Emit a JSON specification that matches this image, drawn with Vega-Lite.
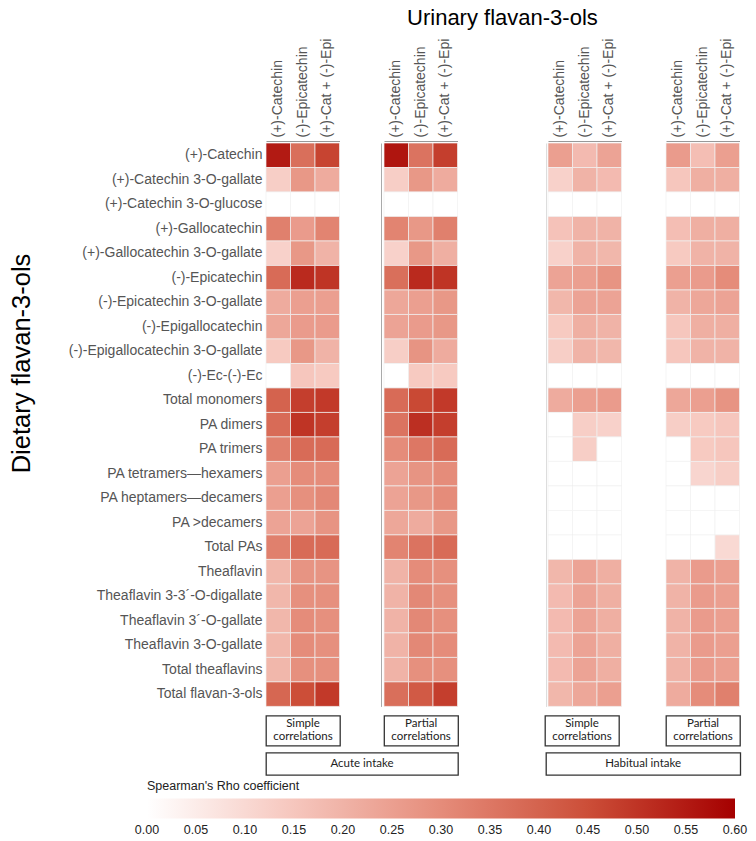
{
"$schema":"https://vega.github.io/schema/vega-lite/v6.json",
"padding":{"left":9,"top":7,"right":5,"bottom":5},
"title":{"text":"Urinary flavan-3-ols","fontSize":22,"font":"Liberation Sans","fontWeight":"normal","color":"#000","anchor":"start","frame":"group","align":"center","dx":236.4,"offset":8},
"datasets":{"cells":[
{"panel":"AS","dietary":"(+)-Catechin","urinary":"(+)-Catechin","rho":0.55},{"panel":"AS","dietary":"(+)-Catechin","urinary":"(-)-Epicatechin","rho":0.37},{"panel":"AS","dietary":"(+)-Catechin","urinary":"(+)-Cat + (-)-Epi","rho":0.47},
{"panel":"AS","dietary":"(+)-Catechin 3-O-gallate","urinary":"(+)-Catechin","rho":0.13},{"panel":"AS","dietary":"(+)-Catechin 3-O-gallate","urinary":"(-)-Epicatechin","rho":0.27},{"panel":"AS","dietary":"(+)-Catechin 3-O-gallate","urinary":"(+)-Cat + (-)-Epi","rho":0.22},
{"panel":"AS","dietary":"(+)-Catechin 3-O-glucose","urinary":"(+)-Catechin","rho":0},{"panel":"AS","dietary":"(+)-Catechin 3-O-glucose","urinary":"(-)-Epicatechin","rho":0},{"panel":"AS","dietary":"(+)-Catechin 3-O-glucose","urinary":"(+)-Cat + (-)-Epi","rho":0},
{"panel":"AS","dietary":"(+)-Gallocatechin","urinary":"(+)-Catechin","rho":0.33},{"panel":"AS","dietary":"(+)-Gallocatechin","urinary":"(-)-Epicatechin","rho":0.26},{"panel":"AS","dietary":"(+)-Gallocatechin","urinary":"(+)-Cat + (-)-Epi","rho":0.32},
{"panel":"AS","dietary":"(+)-Gallocatechin 3-O-gallate","urinary":"(+)-Catechin","rho":0.12},{"panel":"AS","dietary":"(+)-Gallocatechin 3-O-gallate","urinary":"(-)-Epicatechin","rho":0.27},{"panel":"AS","dietary":"(+)-Gallocatechin 3-O-gallate","urinary":"(+)-Cat + (-)-Epi","rho":0.20},
{"panel":"AS","dietary":"(-)-Epicatechin","urinary":"(+)-Catechin","rho":0.38},{"panel":"AS","dietary":"(-)-Epicatechin","urinary":"(-)-Epicatechin","rho":0.52},{"panel":"AS","dietary":"(-)-Epicatechin","urinary":"(+)-Cat + (-)-Epi","rho":0.50},
{"panel":"AS","dietary":"(-)-Epicatechin 3-O-gallate","urinary":"(+)-Catechin","rho":0.22},{"panel":"AS","dietary":"(-)-Epicatechin 3-O-gallate","urinary":"(-)-Epicatechin","rho":0.25},{"panel":"AS","dietary":"(-)-Epicatechin 3-O-gallate","urinary":"(+)-Cat + (-)-Epi","rho":0.25},
{"panel":"AS","dietary":"(-)-Epigallocatechin","urinary":"(+)-Catechin","rho":0.23},{"panel":"AS","dietary":"(-)-Epigallocatechin","urinary":"(-)-Epicatechin","rho":0.26},{"panel":"AS","dietary":"(-)-Epigallocatechin","urinary":"(+)-Cat + (-)-Epi","rho":0.26},
{"panel":"AS","dietary":"(-)-Epigallocatechin 3-O-gallate","urinary":"(+)-Catechin","rho":0.14},{"panel":"AS","dietary":"(-)-Epigallocatechin 3-O-gallate","urinary":"(-)-Epicatechin","rho":0.27},{"panel":"AS","dietary":"(-)-Epigallocatechin 3-O-gallate","urinary":"(+)-Cat + (-)-Epi","rho":0.20},
{"panel":"AS","dietary":"(-)-Ec-(-)-Ec","urinary":"(+)-Catechin","rho":0},{"panel":"AS","dietary":"(-)-Ec-(-)-Ec","urinary":"(-)-Epicatechin","rho":0.15},{"panel":"AS","dietary":"(-)-Ec-(-)-Ec","urinary":"(+)-Cat + (-)-Epi","rho":0.14},
{"panel":"AS","dietary":"Total monomers","urinary":"(+)-Catechin","rho":0.40},{"panel":"AS","dietary":"Total monomers","urinary":"(-)-Epicatechin","rho":0.48},{"panel":"AS","dietary":"Total monomers","urinary":"(+)-Cat + (-)-Epi","rho":0.49},
{"panel":"AS","dietary":"PA dimers","urinary":"(+)-Catechin","rho":0.38},{"panel":"AS","dietary":"PA dimers","urinary":"(-)-Epicatechin","rho":0.50},{"panel":"AS","dietary":"PA dimers","urinary":"(+)-Cat + (-)-Epi","rho":0.48},
{"panel":"AS","dietary":"PA trimers","urinary":"(+)-Catechin","rho":0.33},{"panel":"AS","dietary":"PA trimers","urinary":"(-)-Epicatechin","rho":0.38},{"panel":"AS","dietary":"PA trimers","urinary":"(+)-Cat + (-)-Epi","rho":0.38},
{"panel":"AS","dietary":"PA tetramers—hexamers","urinary":"(+)-Catechin","rho":0.25},{"panel":"AS","dietary":"PA tetramers—hexamers","urinary":"(-)-Epicatechin","rho":0.30},{"panel":"AS","dietary":"PA tetramers—hexamers","urinary":"(+)-Cat + (-)-Epi","rho":0.30},
{"panel":"AS","dietary":"PA heptamers—decamers","urinary":"(+)-Catechin","rho":0.25},{"panel":"AS","dietary":"PA heptamers—decamers","urinary":"(-)-Epicatechin","rho":0.29},{"panel":"AS","dietary":"PA heptamers—decamers","urinary":"(+)-Cat + (-)-Epi","rho":0.31},
{"panel":"AS","dietary":"PA >decamers","urinary":"(+)-Catechin","rho":0.24},{"panel":"AS","dietary":"PA >decamers","urinary":"(-)-Epicatechin","rho":0.24},{"panel":"AS","dietary":"PA >decamers","urinary":"(+)-Cat + (-)-Epi","rho":0.28},
{"panel":"AS","dietary":"Total PAs","urinary":"(+)-Catechin","rho":0.33},{"panel":"AS","dietary":"Total PAs","urinary":"(-)-Epicatechin","rho":0.38},{"panel":"AS","dietary":"Total PAs","urinary":"(+)-Cat + (-)-Epi","rho":0.38},
{"panel":"AS","dietary":"Theaflavin","urinary":"(+)-Catechin","rho":0.19},{"panel":"AS","dietary":"Theaflavin","urinary":"(-)-Epicatechin","rho":0.28},{"panel":"AS","dietary":"Theaflavin","urinary":"(+)-Cat + (-)-Epi","rho":0.28},
{"panel":"AS","dietary":"Theaflavin 3-3´-O-digallate","urinary":"(+)-Catechin","rho":0.19},{"panel":"AS","dietary":"Theaflavin 3-3´-O-digallate","urinary":"(-)-Epicatechin","rho":0.29},{"panel":"AS","dietary":"Theaflavin 3-3´-O-digallate","urinary":"(+)-Cat + (-)-Epi","rho":0.29},
{"panel":"AS","dietary":"Theaflavin 3´-O-gallate","urinary":"(+)-Catechin","rho":0.19},{"panel":"AS","dietary":"Theaflavin 3´-O-gallate","urinary":"(-)-Epicatechin","rho":0.30},{"panel":"AS","dietary":"Theaflavin 3´-O-gallate","urinary":"(+)-Cat + (-)-Epi","rho":0.29},
{"panel":"AS","dietary":"Theaflavin 3-O-gallate","urinary":"(+)-Catechin","rho":0.19},{"panel":"AS","dietary":"Theaflavin 3-O-gallate","urinary":"(-)-Epicatechin","rho":0.30},{"panel":"AS","dietary":"Theaflavin 3-O-gallate","urinary":"(+)-Cat + (-)-Epi","rho":0.29},
{"panel":"AS","dietary":"Total theaflavins","urinary":"(+)-Catechin","rho":0.19},{"panel":"AS","dietary":"Total theaflavins","urinary":"(-)-Epicatechin","rho":0.29},{"panel":"AS","dietary":"Total theaflavins","urinary":"(+)-Cat + (-)-Epi","rho":0.29},
{"panel":"AS","dietary":"Total flavan-3-ols","urinary":"(+)-Catechin","rho":0.39},{"panel":"AS","dietary":"Total flavan-3-ols","urinary":"(-)-Epicatechin","rho":0.45},{"panel":"AS","dietary":"Total flavan-3-ols","urinary":"(+)-Cat + (-)-Epi","rho":0.49},

{"panel":"AP","dietary":"(+)-Catechin","urinary":"(+)-Catechin","rho":0.56},{"panel":"AP","dietary":"(+)-Catechin","urinary":"(-)-Epicatechin","rho":0.36},{"panel":"AP","dietary":"(+)-Catechin","urinary":"(+)-Cat + (-)-Epi","rho":0.48},
{"panel":"AP","dietary":"(+)-Catechin 3-O-gallate","urinary":"(+)-Catechin","rho":0.13},{"panel":"AP","dietary":"(+)-Catechin 3-O-gallate","urinary":"(-)-Epicatechin","rho":0.27},{"panel":"AP","dietary":"(+)-Catechin 3-O-gallate","urinary":"(+)-Cat + (-)-Epi","rho":0.22},
{"panel":"AP","dietary":"(+)-Catechin 3-O-glucose","urinary":"(+)-Catechin","rho":0},{"panel":"AP","dietary":"(+)-Catechin 3-O-glucose","urinary":"(-)-Epicatechin","rho":0},{"panel":"AP","dietary":"(+)-Catechin 3-O-glucose","urinary":"(+)-Cat + (-)-Epi","rho":0},
{"panel":"AP","dietary":"(+)-Gallocatechin","urinary":"(+)-Catechin","rho":0.32},{"panel":"AP","dietary":"(+)-Gallocatechin","urinary":"(-)-Epicatechin","rho":0.27},{"panel":"AP","dietary":"(+)-Gallocatechin","urinary":"(+)-Cat + (-)-Epi","rho":0.33},
{"panel":"AP","dietary":"(+)-Gallocatechin 3-O-gallate","urinary":"(+)-Catechin","rho":0.12},{"panel":"AP","dietary":"(+)-Gallocatechin 3-O-gallate","urinary":"(-)-Epicatechin","rho":0.27},{"panel":"AP","dietary":"(+)-Gallocatechin 3-O-gallate","urinary":"(+)-Cat + (-)-Epi","rho":0.21},
{"panel":"AP","dietary":"(-)-Epicatechin","urinary":"(+)-Catechin","rho":0.37},{"panel":"AP","dietary":"(-)-Epicatechin","urinary":"(-)-Epicatechin","rho":0.52},{"panel":"AP","dietary":"(-)-Epicatechin","urinary":"(+)-Cat + (-)-Epi","rho":0.50},
{"panel":"AP","dietary":"(-)-Epicatechin 3-O-gallate","urinary":"(+)-Catechin","rho":0.23},{"panel":"AP","dietary":"(-)-Epicatechin 3-O-gallate","urinary":"(-)-Epicatechin","rho":0.25},{"panel":"AP","dietary":"(-)-Epicatechin 3-O-gallate","urinary":"(+)-Cat + (-)-Epi","rho":0.27},
{"panel":"AP","dietary":"(-)-Epigallocatechin","urinary":"(+)-Catechin","rho":0.24},{"panel":"AP","dietary":"(-)-Epigallocatechin","urinary":"(-)-Epicatechin","rho":0.26},{"panel":"AP","dietary":"(-)-Epigallocatechin","urinary":"(+)-Cat + (-)-Epi","rho":0.27},
{"panel":"AP","dietary":"(-)-Epigallocatechin 3-O-gallate","urinary":"(+)-Catechin","rho":0.13},{"panel":"AP","dietary":"(-)-Epigallocatechin 3-O-gallate","urinary":"(-)-Epicatechin","rho":0.28},{"panel":"AP","dietary":"(-)-Epigallocatechin 3-O-gallate","urinary":"(+)-Cat + (-)-Epi","rho":0.22},
{"panel":"AP","dietary":"(-)-Ec-(-)-Ec","urinary":"(+)-Catechin","rho":0},{"panel":"AP","dietary":"(-)-Ec-(-)-Ec","urinary":"(-)-Epicatechin","rho":0.14},{"panel":"AP","dietary":"(-)-Ec-(-)-Ec","urinary":"(+)-Cat + (-)-Epi","rho":0.14},
{"panel":"AP","dietary":"Total monomers","urinary":"(+)-Catechin","rho":0.38},{"panel":"AP","dietary":"Total monomers","urinary":"(-)-Epicatechin","rho":0.46},{"panel":"AP","dietary":"Total monomers","urinary":"(+)-Cat + (-)-Epi","rho":0.49},
{"panel":"AP","dietary":"PA dimers","urinary":"(+)-Catechin","rho":0.36},{"panel":"AP","dietary":"PA dimers","urinary":"(-)-Epicatechin","rho":0.51},{"panel":"AP","dietary":"PA dimers","urinary":"(+)-Cat + (-)-Epi","rho":0.48},
{"panel":"AP","dietary":"PA trimers","urinary":"(+)-Catechin","rho":0.30},{"panel":"AP","dietary":"PA trimers","urinary":"(-)-Epicatechin","rho":0.35},{"panel":"AP","dietary":"PA trimers","urinary":"(+)-Cat + (-)-Epi","rho":0.38},
{"panel":"AP","dietary":"PA tetramers—hexamers","urinary":"(+)-Catechin","rho":0.24},{"panel":"AP","dietary":"PA tetramers—hexamers","urinary":"(-)-Epicatechin","rho":0.28},{"panel":"AP","dietary":"PA tetramers—hexamers","urinary":"(+)-Cat + (-)-Epi","rho":0.30},
{"panel":"AP","dietary":"PA heptamers—decamers","urinary":"(+)-Catechin","rho":0.24},{"panel":"AP","dietary":"PA heptamers—decamers","urinary":"(-)-Epicatechin","rho":0.27},{"panel":"AP","dietary":"PA heptamers—decamers","urinary":"(+)-Cat + (-)-Epi","rho":0.30},
{"panel":"AP","dietary":"PA >decamers","urinary":"(+)-Catechin","rho":0.23},{"panel":"AP","dietary":"PA >decamers","urinary":"(-)-Epicatechin","rho":0.22},{"panel":"AP","dietary":"PA >decamers","urinary":"(+)-Cat + (-)-Epi","rho":0.27},
{"panel":"AP","dietary":"Total PAs","urinary":"(+)-Catechin","rho":0.32},{"panel":"AP","dietary":"Total PAs","urinary":"(-)-Epicatechin","rho":0.36},{"panel":"AP","dietary":"Total PAs","urinary":"(+)-Cat + (-)-Epi","rho":0.38},
{"panel":"AP","dietary":"Theaflavin","urinary":"(+)-Catechin","rho":0.20},{"panel":"AP","dietary":"Theaflavin","urinary":"(-)-Epicatechin","rho":0.30},{"panel":"AP","dietary":"Theaflavin","urinary":"(+)-Cat + (-)-Epi","rho":0.29},
{"panel":"AP","dietary":"Theaflavin 3-3´-O-digallate","urinary":"(+)-Catechin","rho":0.20},{"panel":"AP","dietary":"Theaflavin 3-3´-O-digallate","urinary":"(-)-Epicatechin","rho":0.31},{"panel":"AP","dietary":"Theaflavin 3-3´-O-digallate","urinary":"(+)-Cat + (-)-Epi","rho":0.29},
{"panel":"AP","dietary":"Theaflavin 3´-O-gallate","urinary":"(+)-Catechin","rho":0.20},{"panel":"AP","dietary":"Theaflavin 3´-O-gallate","urinary":"(-)-Epicatechin","rho":0.31},{"panel":"AP","dietary":"Theaflavin 3´-O-gallate","urinary":"(+)-Cat + (-)-Epi","rho":0.29},
{"panel":"AP","dietary":"Theaflavin 3-O-gallate","urinary":"(+)-Catechin","rho":0.20},{"panel":"AP","dietary":"Theaflavin 3-O-gallate","urinary":"(-)-Epicatechin","rho":0.31},{"panel":"AP","dietary":"Theaflavin 3-O-gallate","urinary":"(+)-Cat + (-)-Epi","rho":0.30},
{"panel":"AP","dietary":"Total theaflavins","urinary":"(+)-Catechin","rho":0.20},{"panel":"AP","dietary":"Total theaflavins","urinary":"(-)-Epicatechin","rho":0.29},{"panel":"AP","dietary":"Total theaflavins","urinary":"(+)-Cat + (-)-Epi","rho":0.29},
{"panel":"AP","dietary":"Total flavan-3-ols","urinary":"(+)-Catechin","rho":0.37},{"panel":"AP","dietary":"Total flavan-3-ols","urinary":"(-)-Epicatechin","rho":0.42},{"panel":"AP","dietary":"Total flavan-3-ols","urinary":"(+)-Cat + (-)-Epi","rho":0.48},

{"panel":"HS","dietary":"(+)-Catechin","urinary":"(+)-Catechin","rho":0.25},{"panel":"HS","dietary":"(+)-Catechin","urinary":"(-)-Epicatechin","rho":0.18},{"panel":"HS","dietary":"(+)-Catechin","urinary":"(+)-Cat + (-)-Epi","rho":0.24},
{"panel":"HS","dietary":"(+)-Catechin 3-O-gallate","urinary":"(+)-Catechin","rho":0.12},{"panel":"HS","dietary":"(+)-Catechin 3-O-gallate","urinary":"(-)-Epicatechin","rho":0.20},{"panel":"HS","dietary":"(+)-Catechin 3-O-gallate","urinary":"(+)-Cat + (-)-Epi","rho":0.18},
{"panel":"HS","dietary":"(+)-Catechin 3-O-glucose","urinary":"(+)-Catechin","rho":0},{"panel":"HS","dietary":"(+)-Catechin 3-O-glucose","urinary":"(-)-Epicatechin","rho":0},{"panel":"HS","dietary":"(+)-Catechin 3-O-glucose","urinary":"(+)-Cat + (-)-Epi","rho":0},
{"panel":"HS","dietary":"(+)-Gallocatechin","urinary":"(+)-Catechin","rho":0.16},{"panel":"HS","dietary":"(+)-Gallocatechin","urinary":"(-)-Epicatechin","rho":0.20},{"panel":"HS","dietary":"(+)-Gallocatechin","urinary":"(+)-Cat + (-)-Epi","rho":0.20},
{"panel":"HS","dietary":"(+)-Gallocatechin 3-O-gallate","urinary":"(+)-Catechin","rho":0.12},{"panel":"HS","dietary":"(+)-Gallocatechin 3-O-gallate","urinary":"(-)-Epicatechin","rho":0.20},{"panel":"HS","dietary":"(+)-Gallocatechin 3-O-gallate","urinary":"(+)-Cat + (-)-Epi","rho":0.19},
{"panel":"HS","dietary":"(-)-Epicatechin","urinary":"(+)-Catechin","rho":0.24},{"panel":"HS","dietary":"(-)-Epicatechin","urinary":"(-)-Epicatechin","rho":0.25},{"panel":"HS","dietary":"(-)-Epicatechin","urinary":"(+)-Cat + (-)-Epi","rho":0.28},
{"panel":"HS","dietary":"(-)-Epicatechin 3-O-gallate","urinary":"(+)-Catechin","rho":0.19},{"panel":"HS","dietary":"(-)-Epicatechin 3-O-gallate","urinary":"(-)-Epicatechin","rho":0.24},{"panel":"HS","dietary":"(-)-Epicatechin 3-O-gallate","urinary":"(+)-Cat + (-)-Epi","rho":0.24},
{"panel":"HS","dietary":"(-)-Epigallocatechin","urinary":"(+)-Catechin","rho":0.14},{"panel":"HS","dietary":"(-)-Epigallocatechin","urinary":"(-)-Epicatechin","rho":0.21},{"panel":"HS","dietary":"(-)-Epigallocatechin","urinary":"(+)-Cat + (-)-Epi","rho":0.20},
{"panel":"HS","dietary":"(-)-Epigallocatechin 3-O-gallate","urinary":"(+)-Catechin","rho":0.13},{"panel":"HS","dietary":"(-)-Epigallocatechin 3-O-gallate","urinary":"(-)-Epicatechin","rho":0.20},{"panel":"HS","dietary":"(-)-Epigallocatechin 3-O-gallate","urinary":"(+)-Cat + (-)-Epi","rho":0.19},
{"panel":"HS","dietary":"(-)-Ec-(-)-Ec","urinary":"(+)-Catechin","rho":0},{"panel":"HS","dietary":"(-)-Ec-(-)-Ec","urinary":"(-)-Epicatechin","rho":0},{"panel":"HS","dietary":"(-)-Ec-(-)-Ec","urinary":"(+)-Cat + (-)-Epi","rho":0},
{"panel":"HS","dietary":"Total monomers","urinary":"(+)-Catechin","rho":0.22},{"panel":"HS","dietary":"Total monomers","urinary":"(-)-Epicatechin","rho":0.25},{"panel":"HS","dietary":"Total monomers","urinary":"(+)-Cat + (-)-Epi","rho":0.26},
{"panel":"HS","dietary":"PA dimers","urinary":"(+)-Catechin","rho":0},{"panel":"HS","dietary":"PA dimers","urinary":"(-)-Epicatechin","rho":0.13},{"panel":"HS","dietary":"PA dimers","urinary":"(+)-Cat + (-)-Epi","rho":0.12},
{"panel":"HS","dietary":"PA trimers","urinary":"(+)-Catechin","rho":0},{"panel":"HS","dietary":"PA trimers","urinary":"(-)-Epicatechin","rho":0.13},{"panel":"HS","dietary":"PA trimers","urinary":"(+)-Cat + (-)-Epi","rho":0},
{"panel":"HS","dietary":"PA tetramers—hexamers","urinary":"(+)-Catechin","rho":0},{"panel":"HS","dietary":"PA tetramers—hexamers","urinary":"(-)-Epicatechin","rho":0},{"panel":"HS","dietary":"PA tetramers—hexamers","urinary":"(+)-Cat + (-)-Epi","rho":0},
{"panel":"HS","dietary":"PA heptamers—decamers","urinary":"(+)-Catechin","rho":0},{"panel":"HS","dietary":"PA heptamers—decamers","urinary":"(-)-Epicatechin","rho":0},{"panel":"HS","dietary":"PA heptamers—decamers","urinary":"(+)-Cat + (-)-Epi","rho":0},
{"panel":"HS","dietary":"PA >decamers","urinary":"(+)-Catechin","rho":0},{"panel":"HS","dietary":"PA >decamers","urinary":"(-)-Epicatechin","rho":0},{"panel":"HS","dietary":"PA >decamers","urinary":"(+)-Cat + (-)-Epi","rho":0},
{"panel":"HS","dietary":"Total PAs","urinary":"(+)-Catechin","rho":0},{"panel":"HS","dietary":"Total PAs","urinary":"(-)-Epicatechin","rho":0},{"panel":"HS","dietary":"Total PAs","urinary":"(+)-Cat + (-)-Epi","rho":0},
{"panel":"HS","dietary":"Theaflavin","urinary":"(+)-Catechin","rho":0.19},{"panel":"HS","dietary":"Theaflavin","urinary":"(-)-Epicatechin","rho":0.24},{"panel":"HS","dietary":"Theaflavin","urinary":"(+)-Cat + (-)-Epi","rho":0.21},
{"panel":"HS","dietary":"Theaflavin 3-3´-O-digallate","urinary":"(+)-Catechin","rho":0.18},{"panel":"HS","dietary":"Theaflavin 3-3´-O-digallate","urinary":"(-)-Epicatechin","rho":0.24},{"panel":"HS","dietary":"Theaflavin 3-3´-O-digallate","urinary":"(+)-Cat + (-)-Epi","rho":0.21},
{"panel":"HS","dietary":"Theaflavin 3´-O-gallate","urinary":"(+)-Catechin","rho":0.18},{"panel":"HS","dietary":"Theaflavin 3´-O-gallate","urinary":"(-)-Epicatechin","rho":0.24},{"panel":"HS","dietary":"Theaflavin 3´-O-gallate","urinary":"(+)-Cat + (-)-Epi","rho":0.21},
{"panel":"HS","dietary":"Theaflavin 3-O-gallate","urinary":"(+)-Catechin","rho":0.18},{"panel":"HS","dietary":"Theaflavin 3-O-gallate","urinary":"(-)-Epicatechin","rho":0.24},{"panel":"HS","dietary":"Theaflavin 3-O-gallate","urinary":"(+)-Cat + (-)-Epi","rho":0.21},
{"panel":"HS","dietary":"Total theaflavins","urinary":"(+)-Catechin","rho":0.18},{"panel":"HS","dietary":"Total theaflavins","urinary":"(-)-Epicatechin","rho":0.24},{"panel":"HS","dietary":"Total theaflavins","urinary":"(+)-Cat + (-)-Epi","rho":0.21},
{"panel":"HS","dietary":"Total flavan-3-ols","urinary":"(+)-Catechin","rho":0.19},{"panel":"HS","dietary":"Total flavan-3-ols","urinary":"(-)-Epicatechin","rho":0.23},{"panel":"HS","dietary":"Total flavan-3-ols","urinary":"(+)-Cat + (-)-Epi","rho":0.25},

{"panel":"HP","dietary":"(+)-Catechin","urinary":"(+)-Catechin","rho":0.26},{"panel":"HP","dietary":"(+)-Catechin","urinary":"(-)-Epicatechin","rho":0.17},{"panel":"HP","dietary":"(+)-Catechin","urinary":"(+)-Cat + (-)-Epi","rho":0.25},
{"panel":"HP","dietary":"(+)-Catechin 3-O-gallate","urinary":"(+)-Catechin","rho":0.15},{"panel":"HP","dietary":"(+)-Catechin 3-O-gallate","urinary":"(-)-Epicatechin","rho":0.21},{"panel":"HP","dietary":"(+)-Catechin 3-O-gallate","urinary":"(+)-Cat + (-)-Epi","rho":0.21},
{"panel":"HP","dietary":"(+)-Catechin 3-O-glucose","urinary":"(+)-Catechin","rho":0},{"panel":"HP","dietary":"(+)-Catechin 3-O-glucose","urinary":"(-)-Epicatechin","rho":0},{"panel":"HP","dietary":"(+)-Catechin 3-O-glucose","urinary":"(+)-Cat + (-)-Epi","rho":0},
{"panel":"HP","dietary":"(+)-Gallocatechin","urinary":"(+)-Catechin","rho":0.17},{"panel":"HP","dietary":"(+)-Gallocatechin","urinary":"(-)-Epicatechin","rho":0.21},{"panel":"HP","dietary":"(+)-Gallocatechin","urinary":"(+)-Cat + (-)-Epi","rho":0.21},
{"panel":"HP","dietary":"(+)-Gallocatechin 3-O-gallate","urinary":"(+)-Catechin","rho":0.14},{"panel":"HP","dietary":"(+)-Gallocatechin 3-O-gallate","urinary":"(-)-Epicatechin","rho":0.20},{"panel":"HP","dietary":"(+)-Gallocatechin 3-O-gallate","urinary":"(+)-Cat + (-)-Epi","rho":0.20},
{"panel":"HP","dietary":"(-)-Epicatechin","urinary":"(+)-Catechin","rho":0.25},{"panel":"HP","dietary":"(-)-Epicatechin","urinary":"(-)-Epicatechin","rho":0.26},{"panel":"HP","dietary":"(-)-Epicatechin","urinary":"(+)-Cat + (-)-Epi","rho":0.30},
{"panel":"HP","dietary":"(-)-Epicatechin 3-O-gallate","urinary":"(+)-Catechin","rho":0.20},{"panel":"HP","dietary":"(-)-Epicatechin 3-O-gallate","urinary":"(-)-Epicatechin","rho":0.23},{"panel":"HP","dietary":"(-)-Epicatechin 3-O-gallate","urinary":"(+)-Cat + (-)-Epi","rho":0.24},
{"panel":"HP","dietary":"(-)-Epigallocatechin","urinary":"(+)-Catechin","rho":0.15},{"panel":"HP","dietary":"(-)-Epigallocatechin","urinary":"(-)-Epicatechin","rho":0.21},{"panel":"HP","dietary":"(-)-Epigallocatechin","urinary":"(+)-Cat + (-)-Epi","rho":0.21},
{"panel":"HP","dietary":"(-)-Epigallocatechin 3-O-gallate","urinary":"(+)-Catechin","rho":0.15},{"panel":"HP","dietary":"(-)-Epigallocatechin 3-O-gallate","urinary":"(-)-Epicatechin","rho":0.20},{"panel":"HP","dietary":"(-)-Epigallocatechin 3-O-gallate","urinary":"(+)-Cat + (-)-Epi","rho":0.20},
{"panel":"HP","dietary":"(-)-Ec-(-)-Ec","urinary":"(+)-Catechin","rho":0},{"panel":"HP","dietary":"(-)-Ec-(-)-Ec","urinary":"(-)-Epicatechin","rho":0},{"panel":"HP","dietary":"(-)-Ec-(-)-Ec","urinary":"(+)-Cat + (-)-Epi","rho":0},
{"panel":"HP","dietary":"Total monomers","urinary":"(+)-Catechin","rho":0.23},{"panel":"HP","dietary":"Total monomers","urinary":"(-)-Epicatechin","rho":0.25},{"panel":"HP","dietary":"Total monomers","urinary":"(+)-Cat + (-)-Epi","rho":0.28},
{"panel":"HP","dietary":"PA dimers","urinary":"(+)-Catechin","rho":0.13},{"panel":"HP","dietary":"PA dimers","urinary":"(-)-Epicatechin","rho":0.14},{"panel":"HP","dietary":"PA dimers","urinary":"(+)-Cat + (-)-Epi","rho":0.15},
{"panel":"HP","dietary":"PA trimers","urinary":"(+)-Catechin","rho":0},{"panel":"HP","dietary":"PA trimers","urinary":"(-)-Epicatechin","rho":0.14},{"panel":"HP","dietary":"PA trimers","urinary":"(+)-Cat + (-)-Epi","rho":0.15},
{"panel":"HP","dietary":"PA tetramers—hexamers","urinary":"(+)-Catechin","rho":0},{"panel":"HP","dietary":"PA tetramers—hexamers","urinary":"(-)-Epicatechin","rho":0.11},{"panel":"HP","dietary":"PA tetramers—hexamers","urinary":"(+)-Cat + (-)-Epi","rho":0.13},
{"panel":"HP","dietary":"PA heptamers—decamers","urinary":"(+)-Catechin","rho":0},{"panel":"HP","dietary":"PA heptamers—decamers","urinary":"(-)-Epicatechin","rho":0},{"panel":"HP","dietary":"PA heptamers—decamers","urinary":"(+)-Cat + (-)-Epi","rho":0},
{"panel":"HP","dietary":"PA >decamers","urinary":"(+)-Catechin","rho":0},{"panel":"HP","dietary":"PA >decamers","urinary":"(-)-Epicatechin","rho":0},{"panel":"HP","dietary":"PA >decamers","urinary":"(+)-Cat + (-)-Epi","rho":0},
{"panel":"HP","dietary":"Total PAs","urinary":"(+)-Catechin","rho":0},{"panel":"HP","dietary":"Total PAs","urinary":"(-)-Epicatechin","rho":0},{"panel":"HP","dietary":"Total PAs","urinary":"(+)-Cat + (-)-Epi","rho":0.10},
{"panel":"HP","dietary":"Theaflavin","urinary":"(+)-Catechin","rho":0.20},{"panel":"HP","dietary":"Theaflavin","urinary":"(-)-Epicatechin","rho":0.26},{"panel":"HP","dietary":"Theaflavin","urinary":"(+)-Cat + (-)-Epi","rho":0.25},
{"panel":"HP","dietary":"Theaflavin 3-3´-O-digallate","urinary":"(+)-Catechin","rho":0.20},{"panel":"HP","dietary":"Theaflavin 3-3´-O-digallate","urinary":"(-)-Epicatechin","rho":0.26},{"panel":"HP","dietary":"Theaflavin 3-3´-O-digallate","urinary":"(+)-Cat + (-)-Epi","rho":0.25},
{"panel":"HP","dietary":"Theaflavin 3´-O-gallate","urinary":"(+)-Catechin","rho":0.20},{"panel":"HP","dietary":"Theaflavin 3´-O-gallate","urinary":"(-)-Epicatechin","rho":0.26},{"panel":"HP","dietary":"Theaflavin 3´-O-gallate","urinary":"(+)-Cat + (-)-Epi","rho":0.25},
{"panel":"HP","dietary":"Theaflavin 3-O-gallate","urinary":"(+)-Catechin","rho":0.20},{"panel":"HP","dietary":"Theaflavin 3-O-gallate","urinary":"(-)-Epicatechin","rho":0.26},{"panel":"HP","dietary":"Theaflavin 3-O-gallate","urinary":"(+)-Cat + (-)-Epi","rho":0.25},
{"panel":"HP","dietary":"Total theaflavins","urinary":"(+)-Catechin","rho":0.20},{"panel":"HP","dietary":"Total theaflavins","urinary":"(-)-Epicatechin","rho":0.26},{"panel":"HP","dietary":"Total theaflavins","urinary":"(+)-Cat + (-)-Epi","rho":0.25},
{"panel":"HP","dietary":"Total flavan-3-ols","urinary":"(+)-Catechin","rho":0.22},{"panel":"HP","dietary":"Total flavan-3-ols","urinary":"(-)-Epicatechin","rho":0.30},{"panel":"HP","dietary":"Total flavan-3-ols","urinary":"(+)-Cat + (-)-Epi","rho":0.33}
]},
"vconcat":[
 {"hconcat":[
   {"hconcat":[
     {"width":73.5,"height":563.4,"data":{"name":"cells"},"transform":[{"filter":"datum.panel === 'AS'"}],
      "mark":{"type":"rect","stroke":"#f0f0f0","strokeWidth":0.7},
      "encoding":{
       "x":{"field":"urinary","type":"nominal","sort":["(+)-Catechin","(-)-Epicatechin","(+)-Cat + (-)-Epi"],"axis":{"orient":"top","title":null,"labelAngle":-90,"labelAlign":"left","labelBaseline":"middle","labelFontSize":14,"labelFont":"Liberation Sans","labelColor":"#555","ticks":false,"domainColor":"#999","labelPadding":4,"offset":2}},
       "y":{"field":"dietary","type":"nominal","sort":["(+)-Catechin","(+)-Catechin 3-O-gallate","(+)-Catechin 3-O-glucose","(+)-Gallocatechin","(+)-Gallocatechin 3-O-gallate","(-)-Epicatechin","(-)-Epicatechin 3-O-gallate","(-)-Epigallocatechin","(-)-Epigallocatechin 3-O-gallate","(-)-Ec-(-)-Ec","Total monomers","PA dimers","PA trimers","PA tetramers—hexamers","PA heptamers—decamers","PA >decamers","Total PAs","Theaflavin","Theaflavin 3-3´-O-digallate","Theaflavin 3´-O-gallate","Theaflavin 3-O-gallate","Total theaflavins","Total flavan-3-ols"],
          "axis":{"title":"Dietary flavan-3-ols","titleFontSize":25.5,"titleFont":"Liberation Sans","titleFontWeight":"normal","titleColor":"#000","titleAngle":-90,"titleX":-237,"titleY":220,"titleAlign":"center","titleBaseline":"alphabetic","labelFontSize":14,"labelFont":"Liberation Sans","labelColor":"#555","ticks":false,"domain":false,"labelPadding":4,"labelLimit":300}},
       "color":{"field":"rho","type":"quantitative","title":"Spearman's Rho coefficient","scale":{"domain":[0,0.15,0.3,0.45,0.6],"range":["#ffffff","#f6c6bd","#e58c7a","#cc4e38","#a50000"],"interpolate":"rgb","nice":false,"zero":false},
          "legend":{"orient":"none","legendX":-119,"legendY":637,"direction":"horizontal","gradientLength":588,"gradientThickness":20,"values":[0,0.05,0.1,0.15,0.2,0.25,0.3,0.35,0.4,0.45,0.5,0.55,0.6],"format":".2f","labelAlign":"center","labelOverlap":false,"labelFontSize":12.5,"labelFont":"Liberation Sans","labelColor":"#222","labelOffset":5,"titleFontSize":12.5,"titleFont":"Liberation Sans","titleFontWeight":"normal","titleColor":"#222","titlePadding":6,"gradientStrokeWidth":0,"titleLimit":400,"encode":{"labels":{"update":{"align":{"value":"center"}}}}}}}},
     {"width":73.5,"height":563.4,"data":{"name":"cells"},"transform":[{"filter":"datum.panel === 'AP'"}],
      "mark":{"type":"rect","stroke":"#f0f0f0","strokeWidth":0.7},
      "encoding":{
       "x":{"field":"urinary","type":"nominal","sort":["(+)-Catechin","(-)-Epicatechin","(+)-Cat + (-)-Epi"],"axis":{"orient":"top","title":null,"labelAngle":-90,"labelAlign":"left","labelBaseline":"middle","labelFontSize":14,"labelFont":"Liberation Sans","labelColor":"#555","ticks":false,"domainColor":"#999","labelPadding":4,"offset":2}},
       "y":{"field":"dietary","type":"nominal","sort":["(+)-Catechin","(+)-Catechin 3-O-gallate","(+)-Catechin 3-O-glucose","(+)-Gallocatechin","(+)-Gallocatechin 3-O-gallate","(-)-Epicatechin","(-)-Epicatechin 3-O-gallate","(-)-Epigallocatechin","(-)-Epigallocatechin 3-O-gallate","(-)-Ec-(-)-Ec","Total monomers","PA dimers","PA trimers","PA tetramers—hexamers","PA heptamers—decamers","PA >decamers","Total PAs","Theaflavin","Theaflavin 3-3´-O-digallate","Theaflavin 3´-O-gallate","Theaflavin 3-O-gallate","Total theaflavins","Total flavan-3-ols"],
          "axis":{"title":null,"labels":false,"ticks":false,"domainColor":"#aaa","offset":3}},
       "color":{"field":"rho","type":"quantitative","title":"Spearman's Rho coefficient","scale":{"domain":[0,0.15,0.3,0.45,0.6],"range":["#ffffff","#f6c6bd","#e58c7a","#cc4e38","#a50000"],"interpolate":"rgb","nice":false,"zero":false},
          "legend":{"orient":"none","legendX":-119,"legendY":637,"direction":"horizontal","gradientLength":588,"gradientThickness":20,"values":[0,0.05,0.1,0.15,0.2,0.25,0.3,0.35,0.4,0.45,0.5,0.55,0.6],"format":".2f","labelAlign":"center","labelOverlap":false,"labelFontSize":12.5,"labelFont":"Liberation Sans","labelColor":"#222","labelOffset":5,"titleFontSize":12.5,"titleFont":"Liberation Sans","titleFontWeight":"normal","titleColor":"#222","titlePadding":6,"gradientStrokeWidth":0,"titleLimit":400,"encode":{"labels":{"update":{"align":{"value":"center"}}}}}}}}
   ],"spacing":41},
   {"hconcat":[
     {"width":73.5,"height":563.4,"data":{"name":"cells"},"transform":[{"filter":"datum.panel === 'HS'"}],
      "mark":{"type":"rect","stroke":"#f0f0f0","strokeWidth":0.7},
      "encoding":{
       "x":{"field":"urinary","type":"nominal","sort":["(+)-Catechin","(-)-Epicatechin","(+)-Cat + (-)-Epi"],"axis":{"orient":"top","title":null,"labelAngle":-90,"labelAlign":"left","labelBaseline":"middle","labelFontSize":14,"labelFont":"Liberation Sans","labelColor":"#555","ticks":false,"domainColor":"#999","labelPadding":4,"offset":2}},
       "y":{"field":"dietary","type":"nominal","sort":["(+)-Catechin","(+)-Catechin 3-O-gallate","(+)-Catechin 3-O-glucose","(+)-Gallocatechin","(+)-Gallocatechin 3-O-gallate","(-)-Epicatechin","(-)-Epicatechin 3-O-gallate","(-)-Epigallocatechin","(-)-Epigallocatechin 3-O-gallate","(-)-Ec-(-)-Ec","Total monomers","PA dimers","PA trimers","PA tetramers—hexamers","PA heptamers—decamers","PA >decamers","Total PAs","Theaflavin","Theaflavin 3-3´-O-digallate","Theaflavin 3´-O-gallate","Theaflavin 3-O-gallate","Total theaflavins","Total flavan-3-ols"],
          "axis":{"title":null,"labels":false,"ticks":false,"domainColor":"#ddd","offset":2}},
       "color":{"field":"rho","type":"quantitative","title":"Spearman's Rho coefficient","scale":{"domain":[0,0.15,0.3,0.45,0.6],"range":["#ffffff","#f6c6bd","#e58c7a","#cc4e38","#a50000"],"interpolate":"rgb","nice":false,"zero":false},
          "legend":{"orient":"none","legendX":-119,"legendY":637,"direction":"horizontal","gradientLength":588,"gradientThickness":20,"values":[0,0.05,0.1,0.15,0.2,0.25,0.3,0.35,0.4,0.45,0.5,0.55,0.6],"format":".2f","labelAlign":"center","labelOverlap":false,"labelFontSize":12.5,"labelFont":"Liberation Sans","labelColor":"#222","labelOffset":5,"titleFontSize":12.5,"titleFont":"Liberation Sans","titleFontWeight":"normal","titleColor":"#222","titlePadding":6,"gradientStrokeWidth":0,"titleLimit":400,"encode":{"labels":{"update":{"align":{"value":"center"}}}}}}}},
     {"width":73.5,"height":563.4,"data":{"name":"cells"},"transform":[{"filter":"datum.panel === 'HP'"}],
      "mark":{"type":"rect","stroke":"#f0f0f0","strokeWidth":0.7},
      "encoding":{
       "x":{"field":"urinary","type":"nominal","sort":["(+)-Catechin","(-)-Epicatechin","(+)-Cat + (-)-Epi"],"axis":{"orient":"top","title":null,"labelAngle":-90,"labelAlign":"left","labelBaseline":"middle","labelFontSize":14,"labelFont":"Liberation Sans","labelColor":"#555","ticks":false,"domainColor":"#999","labelPadding":4,"offset":2}},
       "y":{"field":"dietary","type":"nominal","sort":["(+)-Catechin","(+)-Catechin 3-O-gallate","(+)-Catechin 3-O-glucose","(+)-Gallocatechin","(+)-Gallocatechin 3-O-gallate","(-)-Epicatechin","(-)-Epicatechin 3-O-gallate","(-)-Epigallocatechin","(-)-Epigallocatechin 3-O-gallate","(-)-Ec-(-)-Ec","Total monomers","PA dimers","PA trimers","PA tetramers—hexamers","PA heptamers—decamers","PA >decamers","Total PAs","Theaflavin","Theaflavin 3-3´-O-digallate","Theaflavin 3´-O-gallate","Theaflavin 3-O-gallate","Total theaflavins","Total flavan-3-ols"],"axis":null},
       "color":{"field":"rho","type":"quantitative","title":"Spearman's Rho coefficient","scale":{"domain":[0,0.15,0.3,0.45,0.6],"range":["#ffffff","#f6c6bd","#e58c7a","#cc4e38","#a50000"],"interpolate":"rgb","nice":false,"zero":false},
          "legend":{"orient":"none","legendX":-119,"legendY":637,"direction":"horizontal","gradientLength":588,"gradientThickness":20,"values":[0,0.05,0.1,0.15,0.2,0.25,0.3,0.35,0.4,0.45,0.5,0.55,0.6],"format":".2f","labelAlign":"center","labelOverlap":false,"labelFontSize":12.5,"labelFont":"Liberation Sans","labelColor":"#222","labelOffset":5,"titleFontSize":12.5,"titleFont":"Liberation Sans","titleFontWeight":"normal","titleColor":"#222","titlePadding":6,"gradientStrokeWidth":0,"titleLimit":400,"encode":{"labels":{"update":{"align":{"value":"center"}}}}}}}}
   ],"spacing":43}
 ],"spacing":88},
 {"vconcat":[
   {"hconcat":[
     {"hconcat":[
       {"width":74,"height":30,"data":{"values":[{"label":["Simple","correlations"]}]},"mark":{"type":"text","font":"Lato","fontSize":11.5,"lineHeight":13.4,"dy":-6.7,"color":"#222","baseline":"middle","align":"center"},"encoding":{"text":{"field":"label","type":"nominal"}},"view":{"stroke":"#333","strokeWidth":1.3}},
       {"width":74,"height":30,"data":{"values":[{"label":["Partial","correlations"]}]},"mark":{"type":"text","font":"Lato","fontSize":11.5,"lineHeight":13.4,"dy":-6.7,"color":"#222","baseline":"middle","align":"center"},"encoding":{"text":{"field":"label","type":"nominal"}},"view":{"stroke":"#333","strokeWidth":1.3}}
     ],"spacing":42.1},
     {"hconcat":[
       {"width":74,"height":30,"data":{"values":[{"label":["Simple","correlations"]}]},"mark":{"type":"text","font":"Lato","fontSize":11.5,"lineHeight":13.4,"dy":-6.7,"color":"#222","baseline":"middle","align":"center"},"encoding":{"text":{"field":"label","type":"nominal"}},"view":{"stroke":"#333","strokeWidth":1.3}},
       {"width":74,"height":30,"data":{"values":[{"label":["Partial","correlations"]}]},"mark":{"type":"text","font":"Lato","fontSize":11.5,"lineHeight":13.4,"dy":-6.7,"color":"#222","baseline":"middle","align":"center"},"encoding":{"text":{"field":"label","type":"nominal"}},"view":{"stroke":"#333","strokeWidth":1.3}}
     ],"spacing":45}
   ],"spacing":85},
   {"hconcat":[
     {"width":192,"height":22.4,"data":{"values":[{"label":"Acute intake"}]},"mark":{"type":"text","font":"Lato","fontSize":11.5,"color":"#222","baseline":"middle","align":"center"},"encoding":{"text":{"field":"label","type":"nominal"}},"view":{"stroke":"#333","strokeWidth":1.3}},
     {"width":194.3,"height":22.4,"data":{"values":[{"label":"Habitual intake"}]},"mark":{"type":"text","font":"Lato","fontSize":11.5,"color":"#222","baseline":"middle","align":"center"},"encoding":{"text":{"field":"label","type":"nominal"}},"view":{"stroke":"#333","strokeWidth":1.3}}
   ],"spacing":86}
 ],"spacing":5}
],
"spacing":7.6,
"resolve":{"scale":{"color":"shared"}},
"config":{"view":{"stroke":null},"background":"white"}
}
